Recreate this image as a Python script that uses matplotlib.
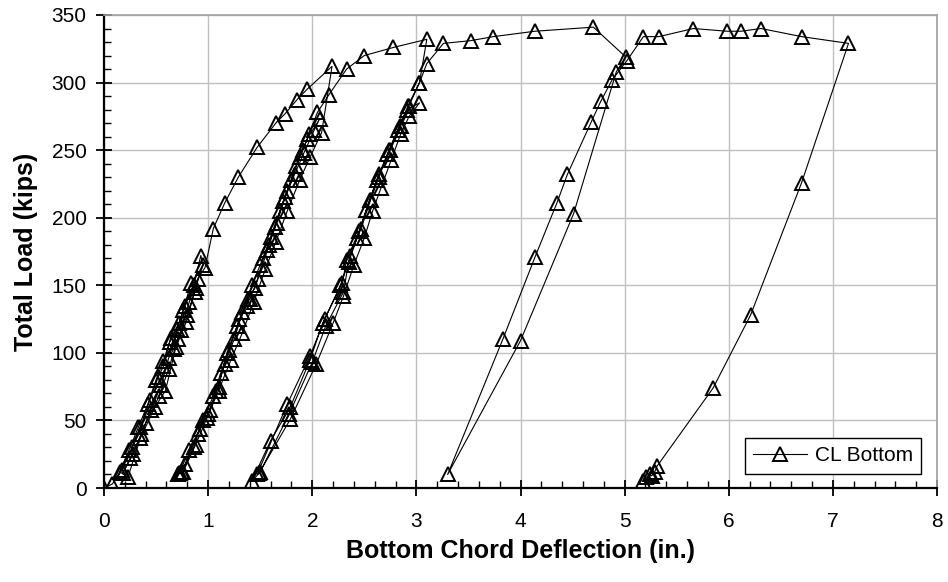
import matplotlib

matplotlib.use("Agg")
import matplotlib.pyplot as plt
import numpy as np
from matplotlib.ticker import MultipleLocator

plt.rcParams["font.family"] = ["Liberation Sans", "DejaVu Sans"]

# CL bottom chord deflection (in.) vs total load (kips).
# Stage 1: first small cycles up to ~170 kips, then loading to ~312 kips
stage1_defl = [0.00, 0.08, 0.17, 0.27, 0.35, 0.44, 0.52, 0.57, 0.64, 0.72, 0.76, 0.84,
               0.87, 0.79, 0.69, 0.59, 0.49, 0.35, 0.23,
               0.15, 0.24, 0.33, 0.42, 0.50, 0.57, 0.63, 0.70, 0.78, 0.86, 0.93,
               0.95, 0.88, 0.80, 0.71, 0.62, 0.53, 0.40, 0.28, 0.18,
               0.25, 0.36, 0.45, 0.55, 0.62, 0.67, 0.74, 0.82, 0.90, 0.97,
               1.05, 1.16, 1.29, 1.47, 1.65, 1.74, 1.85, 1.95, 2.19]
stage1_load = [0, 3, 13, 30, 45, 65, 82, 90, 111, 122, 132, 152,
               145, 123, 104, 72, 60, 37, 8,
               12, 28, 45, 62, 80, 94, 108, 118, 135, 150, 172,
               165, 148, 128, 110, 88, 68, 48, 25, 11,
               22, 40, 58, 76, 96, 103, 117, 138, 155, 163,
               192, 211, 230, 252, 270, 277, 287, 295, 312]

# Stage 2: unload to ~0.7 in., repeated cycles, reload to ~332 kips
stage2_defl = [2.09, 1.98, 1.88, 1.76, 1.65, 1.55, 1.44, 1.33, 1.22, 1.10, 0.99, 0.88, 0.76, 0.71,
               0.72, 0.82, 0.92, 1.02, 1.08, 1.16, 1.25, 1.33, 1.40, 1.48, 1.57, 1.64, 1.72,
               1.80, 1.88, 1.95, 2.07,
               2.02, 1.92, 1.83, 1.74, 1.66, 1.58, 1.50, 1.42, 1.37, 1.28, 1.18, 1.10, 1.00,
               0.90, 0.78, 0.73,
               0.75, 0.86, 0.95, 1.05, 1.12, 1.20, 1.30, 1.38, 1.45, 1.53, 1.60, 1.69, 1.76,
               1.84, 1.91, 1.97, 2.05, 2.16, 2.33, 2.50, 2.78, 3.10]
stage2_load = [263, 245, 228, 205, 182, 162, 138, 115, 95, 72, 52, 32, 12, 10,
               11, 28, 44, 58, 72, 92, 110, 130, 140, 155, 176, 193, 212,
               228, 245, 258, 273,
               265, 248, 232, 215, 196, 180, 165, 150, 135, 120, 100, 75, 55,
               40, 18, 11,
               12, 30, 50, 68, 85, 102, 125, 140, 148, 170, 186, 205, 220,
               238, 250, 262, 278, 291, 310, 320, 326, 332]

# Stage 3: unload to ~1.4 in., cycles, reload to peak ~341 kips
stage3_defl = [3.03, 2.93, 2.85, 2.75, 2.64, 2.55, 2.45, 2.33, 2.29, 2.10, 1.98, 1.79, 1.60, 1.42,
               1.49, 1.79, 2.04, 2.20, 2.30, 2.40, 2.50, 2.58, 2.66, 2.76, 2.85, 2.93, 3.03,
               2.91, 2.82, 2.72, 2.62, 2.52, 2.43, 2.35, 2.27, 2.12, 1.98, 1.76, 1.47,
               1.50, 1.78, 2.00, 2.13, 2.30, 2.36, 2.47, 2.56, 2.64, 2.74, 2.84, 2.92, 3.03,
               3.10, 3.26, 3.52, 3.74, 4.14, 4.70]
stage3_load = [300, 283, 268, 250, 232, 213, 190, 169, 152, 122, 95, 60, 35, 5,
               11, 51, 92, 122, 142, 165, 185, 205, 222, 243, 262, 275, 285,
               280, 265, 247, 228, 206, 185, 167, 150, 125, 98, 62, 10,
               12, 55, 93, 120, 145, 172, 192, 213, 230, 250, 268, 283, 300,
               314, 329, 331, 334, 338, 341]

# Stage 4: softening, unload to ~3.3 in., reload along the plateau to 7.15 in.
stage4_defl = [5.01, 4.92, 4.51, 4.00, 3.30,
               3.83, 4.14, 4.35, 4.45, 4.68, 4.77, 4.88, 5.02,
               5.18, 5.33, 5.66, 5.98, 6.12, 6.31, 6.70, 7.15]
stage4_load = [319, 308, 203, 109, 10,
               110, 171, 211, 232, 271, 286, 302, 316,
               334, 334, 340, 338, 338, 340, 334, 329]

# Stage 5: final unload
stage5_defl = [6.70, 6.21, 5.85, 5.31, 5.29, 5.26, 5.24, 5.21, 5.18]
stage5_load = [226, 128, 74, 16, 12, 9, 10, 8, 5]

defl = np.concatenate([stage1_defl, stage2_defl, stage3_defl, stage4_defl, stage5_defl])
load = np.concatenate([stage1_load, stage2_load, stage3_load, stage4_load, stage5_load])

fig = plt.figure(figsize=(9.48, 5.82), dpi=100)
ax = fig.add_axes([104 / 948, 1 - 488 / 582, 833 / 948, 473 / 582])

ax.plot(defl, load, "-", color="black", linewidth=0.8, marker="^", ms=10,
        markerfacecolor="none", markeredgecolor="black", markeredgewidth=1.4,
        label="CL Bottom", zorder=3)

ax.set_xlim(0, 8)
ax.set_ylim(0, 350)
ax.xaxis.set_major_locator(MultipleLocator(1))
ax.xaxis.set_minor_locator(MultipleLocator(0.2))
ax.yaxis.set_major_locator(MultipleLocator(50))
ax.yaxis.set_minor_locator(MultipleLocator(10))
ax.grid(True, which="major", color="#c0c0c0", linewidth=1.0, zorder=0)
ax.set_axisbelow(True)

ax.tick_params(which="major", direction="inout", length=11, width=1.3, labelsize=15)
ax.tick_params(which="minor", direction="in", length=5, width=1.0)
ax.tick_params(axis="x", which="major", pad=12)
ax.tick_params(axis="y", which="major", pad=7)
ax.tick_params(top=False, right=False, which="both")

for side in ("left", "bottom"):
    ax.spines[side].set_linewidth(1.6)
    ax.spines[side].set_color("black")
for side in ("top", "right"):
    ax.spines[side].set_color("#a0a0a0")
    ax.spines[side].set_linewidth(1.2)

ax.set_xlabel("Bottom Chord Deflection (in.)", fontsize=18, fontweight="bold", va="center")
ax.xaxis.set_label_coords(0.5, -(551 - 488) / 473)
ax.set_ylabel("Total Load (kips)", fontsize=18, fontweight="bold", va="center")
ax.yaxis.set_label_coords(-(104 - 26) / 833, 0.5)

leg = ax.legend(loc="lower right", fontsize=15, frameon=True, fancybox=False,
                edgecolor="black", framealpha=1, handlelength=2.6, handletextpad=0.35,
                borderpad=0.4, borderaxespad=0, bbox_to_anchor=(0.981, 0.030))
leg.get_frame().set_linewidth(1.0)

fig.savefig("out.png", dpi=100)
